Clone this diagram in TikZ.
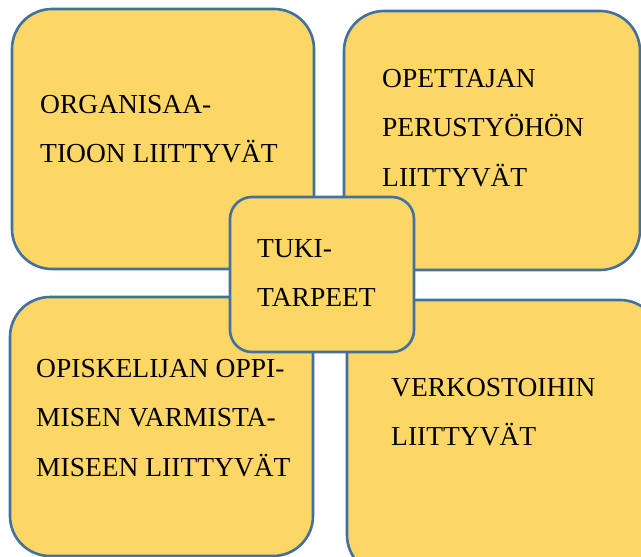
\documentclass[tikz,border=0pt]{standalone}
\usepackage{fontspec}
\setmainfont{Liberation Serif}
\definecolor{boxfill}{HTML}{FDD766}
\definecolor{boxline}{HTML}{41719C}
\tikzset{
  area/.style={draw=boxline, line width=2.6pt, fill=boxfill, rounded corners=40pt,
    rectangle, inner sep=0pt},
  hub/.style={area, rounded corners=22pt},
  caption/.style={anchor=base west, inner sep=0pt,
    font=\fontsize{27.5}{49.5}\selectfont}
}
\newcommand{\lines}[1]{\begin{tabular}[t]{@{}l@{}}#1\end{tabular}}
\begin{document}
\begin{tikzpicture}[x=1pt,y=-1pt]
  \useasboundingbox (0,0) rectangle (641,557);
  \clip (0,0) rectangle (641,557);
  % four surrounding areas
  \node[area, minimum width=302pt, minimum height=260pt] (org) at (163,139) {};
  \node[area, minimum width=296pt, minimum height=259pt] (ope) at (492,140.5) {};
  \node[area, minimum width=303pt, minimum height=259pt] (opi) at (161.5,426.5) {};
  \node[area, minimum width=313pt, minimum height=275pt] (ver) at (503.5,437.5) {};
  % central box on top
  \node[hub, minimum width=184pt, minimum height=155pt] (tuki) at (322,274.5) {};
  % texts
  \node[caption] (torg) at (40,113) {\lines{ORGANISAA-\\TIOON LIITTYVÄT}};
  \node[caption] (tope) at (382,87) {\lines{OPETTAJAN\\PERUSTYÖHÖN\\LIITTYVÄT}};
  \node[caption] (topi) at (36,377) {\lines{OPISKELIJAN OPPI-\\MISEN VARMISTA-\\MISEEN LIITTYVÄT}};
  \node[caption] (tver) at (391,396) {\lines{VERKOSTOIHIN\\LIITTYVÄT}};
  \node[caption] (ttuki) at (257,257) {\lines{TUKI-\\TARPEET}};
\end{tikzpicture}
\end{document}
